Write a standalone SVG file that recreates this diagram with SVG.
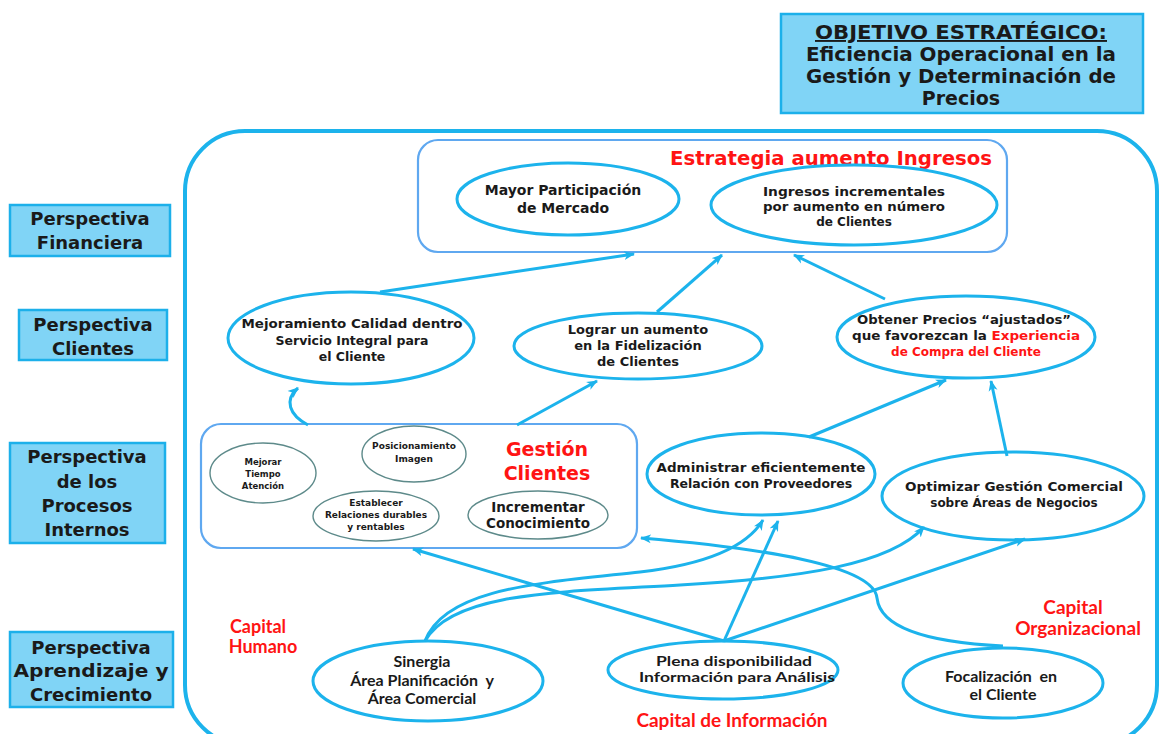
<svg xmlns="http://www.w3.org/2000/svg" width="1160" height="734" viewBox="0 0 1160 734">
  <style>
    .v { font-family: "DejaVu Sans", Verdana, sans-serif; font-weight: bold; fill: #1a1a1a; text-anchor: middle; }
    .c { font-family: Lato, "Open Sans", sans-serif; font-weight: bold; fill: #1a1a1a; text-anchor: middle; }
    .red { fill: #ff1414; }
    .persp { fill: #80d4f6; stroke: #1cb0ea; stroke-width: 2.5; }
    .frame { fill: none; stroke: #1cb3ec; stroke-width: 4; }
    .group { fill: #ffffff; stroke: #5fa8f0; stroke-width: 2.2; }
    .node { fill: #ffffff; stroke: #1cb3ec; stroke-width: 3; }
    .sub { fill: #ffffff; stroke: #5d8a8a; stroke-width: 1.4; }
    .link { fill: none; stroke: #1cb3ec; stroke-width: 3; marker-end: url(#arrow); }
  </style>
  <defs>
    <marker id="arrow" markerUnits="userSpaceOnUse" markerWidth="12" markerHeight="10" refX="10" refY="5" orient="auto">
      <path d="M0,0.5 L11,5 L0,9.5 L3,5 Z" fill="#1cb3ec"/>
    </marker>
  </defs>

  <rect width="1160" height="734" fill="#ffffff"/>

  <!-- Strategic objective -->
  <g id="objetivo">
    <rect x="781" y="14" width="362" height="99" class="persp"/>
    <text x="961" y="39" class="v" font-size="19" text-decoration="underline" textLength="292" lengthAdjust="spacingAndGlyphs">OBJETIVO ESTRATÉGICO:</text>
    <text x="961" y="61" class="v" font-size="19" textLength="310" lengthAdjust="spacingAndGlyphs">Eficiencia  Operacional en la</text>
    <text x="961" y="83" class="v" font-size="19" textLength="310" lengthAdjust="spacingAndGlyphs">Gestión y Determinación  de</text>
    <text x="961" y="105" class="v" font-size="19">Precios</text>
  </g>

  <!-- Perspective labels -->
  <g id="persp-financiera">
    <rect x="10" y="205" width="160" height="51" class="persp"/>
    <text x="90" y="225" class="v" font-size="18">Perspectiva</text>
    <text x="90" y="249" class="v" font-size="18">Financiera</text>
  </g>
  <g id="persp-clientes">
    <rect x="19" y="310" width="148" height="50" class="persp"/>
    <text x="93" y="331" class="v" font-size="18">Perspectiva</text>
    <text x="93" y="355" class="v" font-size="18">Clientes</text>
  </g>
  <g id="persp-procesos">
    <rect x="10" y="443" width="155" height="100" class="persp"/>
    <text x="87" y="463" class="v" font-size="18">Perspectiva</text>
    <text x="87" y="488" class="v" font-size="18">de los</text>
    <text x="87" y="512" class="v" font-size="18">Procesos</text>
    <text x="87" y="536" class="v" font-size="18">Internos</text>
  </g>
  <g id="persp-aprendizaje">
    <rect x="10" y="632" width="163" height="75" class="persp"/>
    <text x="91" y="654" class="v" font-size="18">Perspectiva</text>
    <text x="91" y="677" class="v" font-size="18" textLength="155" lengthAdjust="spacingAndGlyphs">Aprendizaje y</text>
    <text x="91" y="701" class="v" font-size="18">Crecimiento</text>
  </g>

  <!-- Outer map frame (runs past the lower edge) -->
  <rect x="185" y="131" width="972" height="614" rx="60" ry="60" class="frame"/>

  <!-- Financial strategy group -->
  <g id="estrategia-ingresos">
    <rect x="418" y="140" width="589" height="112" rx="20" ry="20" class="group"/>
    <text x="831" y="165" class="v red" font-size="19" textLength="322" lengthAdjust="spacingAndGlyphs">Estrategia aumento Ingresos</text>
  </g>
  <g id="mayor-participacion">
    <ellipse cx="568" cy="199" rx="111" ry="36" class="node"/>
    <text x="563" y="195" class="v" font-size="14">Mayor Participación</text>
    <text x="563" y="213" class="v" font-size="14">de Mercado</text>
  </g>
  <g id="ingresos-incrementales">
    <ellipse cx="854" cy="205" rx="143" ry="40" class="node"/>
    <text x="854" y="196" class="v" font-size="12" textLength="182" lengthAdjust="spacingAndGlyphs">Ingresos incrementales</text>
    <text x="854" y="211" class="v" font-size="12" textLength="182" lengthAdjust="spacingAndGlyphs">por aumento en número</text>
    <text x="854" y="226" class="v" font-size="12">de Clientes</text>
  </g>

  <!-- Customer perspective -->
  <g id="mejoramiento-calidad">
    <ellipse cx="351" cy="338" rx="123" ry="46" class="node"/>
    <text x="352" y="328" class="v" font-size="12.5" textLength="221" lengthAdjust="spacingAndGlyphs">Mejoramiento Calidad dentro</text>
    <text x="352" y="345" class="v" font-size="12.5">Servicio Integral para</text>
    <text x="352" y="361" class="v" font-size="12.5">el Cliente</text>
  </g>
  <g id="fidelizacion">
    <ellipse cx="638" cy="346" rx="124" ry="33" class="node"/>
    <text x="638" y="334" class="v" font-size="13">Lograr un aumento</text>
    <text x="638" y="350" class="v" font-size="13">en la Fidelización</text>
    <text x="638" y="366" class="v" font-size="13">de Clientes</text>
  </g>
  <g id="precios-ajustados">
    <ellipse cx="966" cy="337" rx="129" ry="41" class="node"/>
    <text x="964" y="324" class="v" font-size="12" textLength="214" lengthAdjust="spacingAndGlyphs">Obtener Precios “ajustados”</text>
    <text x="966" y="340" class="v" font-size="12" textLength="228" lengthAdjust="spacingAndGlyphs">que favorezcan la <tspan class="red">Experiencia</tspan></text>
    <text x="966" y="356" class="v red" font-size="12">de Compra del Cliente</text>
  </g>

  <!-- Internal processes: client management group -->
  <g id="gestion-clientes">
    <rect x="201" y="424" width="436" height="124" rx="20" ry="20" class="group"/>
    <text x="547" y="456" class="v red" font-size="19">Gestión</text>
    <text x="547" y="480" class="v red" font-size="19">Clientes</text>
  </g>
  <g id="mejorar-tiempo">
    <ellipse cx="263" cy="473" rx="53" ry="30" class="sub"/>
    <text x="263" y="465" class="v" font-size="8.5">Mejorar</text>
    <text x="263" y="477" class="v" font-size="8.5">Tiempo</text>
    <text x="263" y="489" class="v" font-size="8.5">Atención</text>
  </g>
  <g id="posicionamiento">
    <ellipse cx="414" cy="454" rx="52" ry="28" class="sub"/>
    <text x="414" y="449" class="v" font-size="9">Posicionamiento</text>
    <text x="414" y="462" class="v" font-size="9">Imagen</text>
  </g>
  <g id="establecer-relaciones">
    <ellipse cx="376" cy="516" rx="63" ry="25" class="sub"/>
    <text x="376" y="506" class="v" font-size="9">Establecer</text>
    <text x="376" y="518" class="v" font-size="9">Relaciones durables</text>
    <text x="376" y="530" class="v" font-size="9">y rentables</text>
  </g>
  <g id="incrementar-conocimiento">
    <ellipse cx="538" cy="515" rx="70" ry="24" class="sub"/>
    <text x="538" y="512" class="v" font-size="13.5">Incrementar</text>
    <text x="538" y="528" class="v" font-size="13.5">Conocimiento</text>
  </g>

  <g id="proveedores">
    <ellipse cx="761" cy="474" rx="114" ry="41" class="node"/>
    <text x="761" y="472" class="v" font-size="12.5" textLength="209" lengthAdjust="spacingAndGlyphs">Administrar eficientemente</text>
    <text x="761" y="488" class="v" font-size="12.5">Relación con Proveedores</text>
  </g>
  <g id="gestion-comercial">
    <ellipse cx="1013" cy="496" rx="131" ry="44" class="node"/>
    <text x="1014" y="491" class="v" font-size="12" textLength="218" lengthAdjust="spacingAndGlyphs">Optimizar Gestión Comercial</text>
    <text x="1014" y="507" class="v" font-size="12">sobre Áreas de Negocios</text>
  </g>

  <!-- Learning and growth -->
  <g id="sinergia">
    <ellipse cx="428" cy="681" rx="115" ry="40" class="node"/>
    <text x="422" y="667" class="c" font-size="16">Sinergia</text>
    <text x="422" y="686" class="c" font-size="16" xml:space="preserve">Área Planificación  y</text>
    <text x="422" y="704" class="c" font-size="16">Área Comercial</text>
  </g>
  <g id="informacion">
    <ellipse cx="723" cy="670" rx="115" ry="29" class="node"/>
    <text x="734" y="666" class="c" font-size="14" textLength="156" lengthAdjust="spacingAndGlyphs">Plena disponibilidad</text>
    <text x="737" y="682" class="c" font-size="14" textLength="196" lengthAdjust="spacingAndGlyphs">Información para Análisis</text>
  </g>
  <g id="focalizacion">
    <ellipse cx="1003" cy="683" rx="100" ry="35" class="node"/>
    <text x="1001" y="682" class="c" font-size="16" xml:space="preserve">Focalización  en</text>
    <text x="1003" y="700" class="c" font-size="16">el Cliente</text>
  </g>

  <!-- Capital labels -->
  <g id="capital-labels">
    <text x="258" y="633" class="c red" font-size="18">Capital</text>
    <text x="263" y="653" class="c red" font-size="18">Humano</text>
    <text x="1073" y="614" class="c red" font-size="19">Capital</text>
    <text x="1078" y="635" class="c red" font-size="19">Organizacional</text>
    <text x="732" y="727" class="c red" font-size="19">Capital de Información</text>
  </g>

  <!-- Cause-effect connectors -->
  <g id="connectors">
    <path class="link" d="M380,292 L634,254"/>
    <path class="link" d="M657,312 L722,255"/>
    <path class="link" d="M885,299 L794,255"/>
    <path class="link" d="M308,425 C289,415 284,400 298,388"/>
    <path class="link" d="M517,425 L597,381"/>
    <path class="link" d="M809,437 L946,380"/>
    <path class="link" d="M1007,456 L991,381"/>
    <path class="link" d="M425,641 C445,588 540,583 640,572 C700,565 745,550 763,520"/>
    <path class="link" d="M425,641 C452,592 560,592 680,585 C800,578 890,565 924,527"/>
    <path class="link" d="M724,641 L778,521"/>
    <path class="link" d="M724,641 L413,549"/>
    <path class="link" d="M724,641 L1025,539"/>
    <path class="link" d="M1003,646 C920,642 880,625 877,598 C874,565 760,548 641,538"/>
  </g>
</svg>
